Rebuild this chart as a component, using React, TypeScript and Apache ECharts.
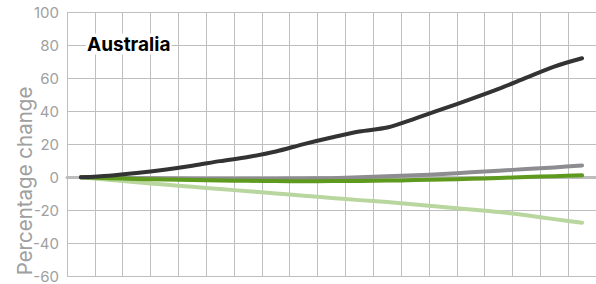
import React, { useEffect, useRef } from "react";
import * as echarts from "echarts";

const categories = Array.from({ length: 19 }, (_, i) => String(i));
const darkSeries = [0, 1.0, 2.6, 4.6, 7.0, 9.8, 12.3, 15.6, 20.1, 24.1, 27.7, 30.1, 35.5, 41.4, 47.3, 53.5, 60.3, 67.0, 72.0];
const graySeries = [0, -0.3, -0.5, -0.7, -0.8, -0.8, -0.8, -0.8, -0.7, -0.5, 0, 0.6, 1.2, 2.0, 3.0, 4.0, 5.0, 6.0, 7.2];
const greenSeries = [0, -0.5, -1.0, -1.3, -1.6, -1.9, -2.1, -2.3, -2.4, -2.3, -2.2, -2.0, -1.7, -1.3, -0.9, -0.4, 0.2, 0.7, 1.2];
const lightGreenSeries = [0, -1.5, -3.0, -4.4, -5.7, -7.1, -8.4, -9.8, -11.1, -12.5, -13.8, -15.0, -16.5, -18.0, -19.5, -21.0, -23.0, -25.3, -27.5];
const yTicks = { min: -60, max: 100, interval: 20 };
const title = "Australia";
const yName = "Percentage change";

export default function App() {
  const ref = useRef<HTMLDivElement>(null);
  useEffect(() => {
    if (!ref.current) return;
    const chart = echarts.init(ref.current, null, { renderer: "svg" });
    const line = (name: string, data: number[], color: string) => ({
      name,
      type: "line",
      data,
      symbol: "none",
      smooth: 0.3,
      lineStyle: { color, width: 4, cap: "round", join: "round" },
    });
    chart.setOption({
      animation: false,
      textStyle: { fontFamily: "Inter, sans-serif" },
      grid: { left: 67, right: 0, top: 12, bottom: 7, containLabel: false },
      xAxis: {
        type: "category",
        data: categories,
        boundaryGap: true,
        axisLine: { onZero: true, lineStyle: { color: "#bdbdbd", width: 3 } },
        axisTick: { show: false },
        axisLabel: { show: false },
        splitLine: { show: true, lineStyle: { color: "#bfbfc2", width: 1 } },
      },
      yAxis: {
        type: "value",
        min: yTicks.min,
        max: yTicks.max,
        interval: yTicks.interval,
        axisLine: { show: false },
        axisTick: { show: false },
        axisLabel: { color: "#a0a0a0", fontSize: 15, margin: 8, fontFamily: "Inter, sans-serif" },
        splitLine: { show: true, lineStyle: { color: "#bfbfc2", width: 1 } },
      },
      graphic: [
        {
          type: "text",
          x: 86,
          y: 44,
          z: 10,
          style: {
            text: title,
            fontSize: 19,
            fontWeight: "bold",
            fill: "#000",
            align: "left",
            verticalAlign: "middle",
            backgroundColor: "#fff",
            padding: [1, 1],
            fontFamily: "Inter, sans-serif",
          },
        },
        {
          type: "text",
          x: 24,
          y: 181,
          rotation: Math.PI / 2,
          style: {
            text: yName,
            fontSize: 20.5,
            fill: "#a0a0a0",
            align: "center",
            verticalAlign: "middle",
            fontFamily: "Inter, sans-serif",
          },
        },
      ],
      series: [
        line("Light green", lightGreenSeries, "#b9d69f"),
        line("Gray", graySeries, "#8d8d91"),
        line("Green", greenSeries, "#5e9a1e"),
        line("Dark", darkSeries, "#333333"),
      ],
    });
    return () => chart.dispose();
  }, []);
  return <div ref={ref} style={{ position: "absolute", left: 0, top: 0, width: 596, height: 284 }} />;
}
